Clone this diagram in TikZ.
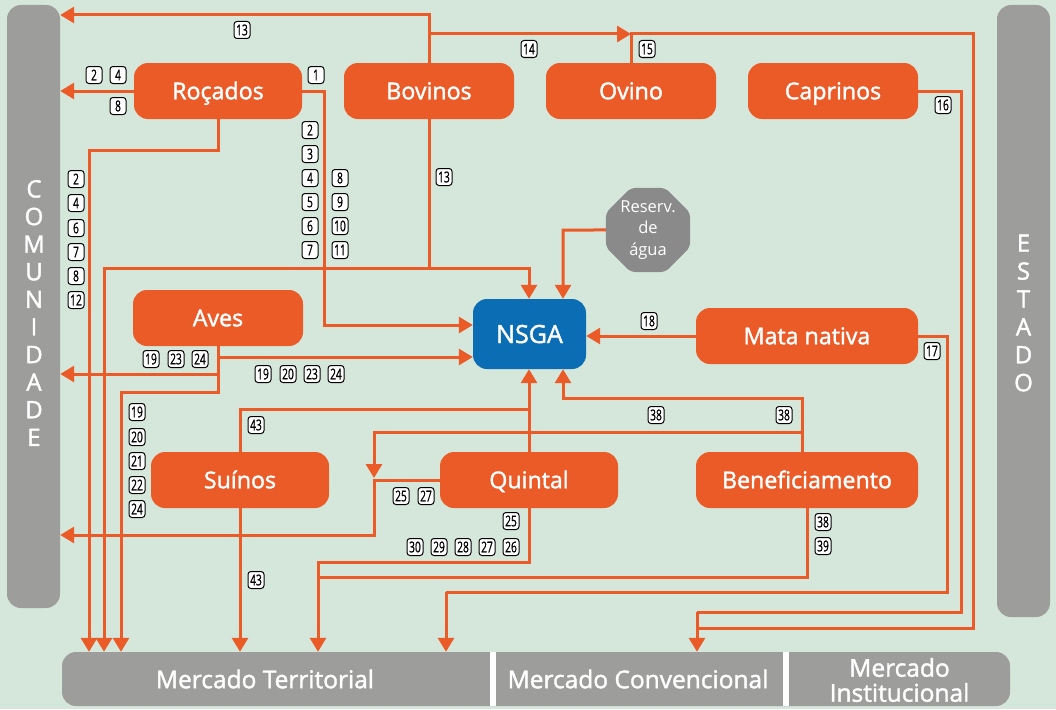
\documentclass[tikz,border=0pt]{standalone}
\usepackage{fontspec}
\setmainfont{Open Sans}
\newfontfamily\semib{Open Sans}[FakeBold=1.6]
\newfontfamily\lblf{Open Sans}[FakeBold=1.0]
\usetikzlibrary{arrows.meta,shapes.geometric}
\definecolor{bgc}{RGB}{213,231,218}
\definecolor{orc}{RGB}{235,91,40}
\definecolor{grc}{RGB}{157,157,156}
\definecolor{ogc}{RGB}{138,138,138}
\definecolor{blc}{RGB}{11,110,181}
\tikzset{
 box/.style={fill=orc, rounded corners=14pt, minimum height=56pt, text=white, font=\semib\fontsize{23.2}{26}\selectfont, inner sep=0pt, text height=16.5pt, text depth=0pt},
 bar/.style={fill=grc, rounded corners=14pt, inner sep=0pt},
 bartxt/.style={text=white, align=center, inner sep=0pt},
 mkt/.style={text=white, align=center, inner sep=0pt, minimum height=54pt, font=\semib\fontsize{24.5}{25}\selectfont},
 flow/.style={draw=orc, line width=3pt},
 arr/.style={flow, -{Triangle[length=14pt,width=16pt]}},
 lbl/.style={draw=black, fill=white, line width=1pt, rounded corners=3pt, minimum width=16pt, minimum height=17pt, inner sep=0pt, font=\lblf\fontsize{15}{15}\selectfont},
}
\newcommand\lb[3]{\node[lbl] (#1) at (#2) {\scalebox{0.68}[1]{#3}};}
\begin{document}
\begin{tikzpicture}[x=1pt,y=-1pt]
\fill[bgc] (0,0) rectangle (1056,709);
\useasboundingbox (0,0) rectangle (1056,709);
% side bars
\node[bar, minimum width=53pt, minimum height=603pt] (comunidade) at (33.5,306.5) {};
\node[bartxt, font=\semib\fontsize{24}{27.6}\selectfont] (comtxt) at (34,313) {C\\O\\M\\U\\N\\I\\D\\A\\D\\E};
\node[bar, minimum width=53pt, minimum height=612pt] (estado) at (1023.5,311) {};
\node[bartxt, font=\semib\fontsize{24}{27.9}\selectfont] (esttxt) at (1023.5,313) {E\\S\\T\\A\\D\\O};
% market bar
\fill[grc, rounded corners=14pt] (62,652) rectangle (1010,706);
\fill[white] (490,652) rectangle (496,706);
\fill[white] (783,652) rectangle (789,706);
\node[mkt, minimum width=428pt] (mterr) at (265,679) {Mercado Territorial};
\node[mkt, minimum width=287pt] (mconv) at (638,679) {Mercado Convencional};
\node[mkt, minimum width=221pt] (minst) at (899.5,680) {Mercado\\Institucional};
% nodes
\node[box, minimum width=168pt] (rocados) at (218,91) {Roçados};
\node[box, minimum width=170pt] (bovinos) at (429,91) {Bovinos};
\node[box, minimum width=170pt] (ovino) at (631,91) {Ovino};
\node[box, minimum width=170pt] (caprinos) at (833,91) {Caprinos};
\node[box, minimum width=170pt] (aves) at (218,318) {Aves};
\node[box, fill=blc, minimum width=113pt, minimum height=70pt, font=\semib\fontsize{25}{28}\selectfont, text height=18pt] (nsga) at (529.5,334) {NSGA};
\node[regular polygon, regular polygon sides=8, fill=ogc, minimum size=91pt, inner sep=0pt, rounded corners=5pt, text=white, align=center, font=\fontsize{16.5}{21.5}\selectfont] (reserv) at (648,230) {Reserv.\\de\\água};
\node[box, minimum width=222pt] (mata) at (807,336) {Mata nativa};
\node[box, minimum width=178pt] (suinos) at (240,480) {Suínos};
\node[box, minimum width=178pt] (quintal) at (529,480) {Quintal};
\node[box, minimum width=222pt] (benef) at (807,480) {Beneficiamento};
% connectors
\coordinate (b13) at (429,15);
\draw[arr] (bovinos.north) -- (b13) -- (b13 -| comunidade.east);
\coordinate (bj) at (429,34);
\coordinate (oj) at (631,34);
\draw[arr] (bj) -- (oj);
\coordinate (c1) at (973,34);
\coordinate (c2) at (973,628);
\coordinate (c3) at (697,628);
\coordinate (cv) at (697,612);
\draw[flow] (ovino.north) -- (oj) -- (c1) -- (c2) -- (c3);
\draw[flow] (caprinos.east) -- (961,91) -- (961,612) -- (cv);
\draw[arr] (cv) -- (cv |- mconv.north);
\coordinate (e4) at (446,592);
\draw[flow] (mata.east) -- (947,336) -- (947,592) -- (e4);
\draw[arr] (e4) -- (e4 |- mterr.north);
\draw[arr] (mata.west) -- (nsga.east |- mata.west);
\draw[arr] (rocados.west) -- (rocados.west -| comunidade.east);
\coordinate (h1) at (218,150);
\coordinate (h2) at (89,150);
\draw[arr] (rocados.south) -- (h1) -- (h2) -- (h2 |- mterr.north);
\coordinate (i1) at (324,91);
\coordinate (i2) at (324,325);
\draw[arr] (rocados.east) -- (i1) -- (i2) -- (i2 -| nsga.west);
\coordinate (j1) at (429,268);
\coordinate (j2) at (529,268);
\coordinate (j3) at (104,268);
\draw[arr] (bovinos.south) -- (j1) -- (j2) -- (j2 |- nsga.north);
\draw[arr] (j1) -- (j3) -- (j3 |- mterr.north);
\coordinate (k1) at (563,230);
\draw[arr] (reserv.west) -- (k1) -- (k1 |- nsga.north);
\coordinate (l1) at (218,357);
\coordinate (l2) at (218,374);
\coordinate (l3) at (218,392);
\coordinate (l4) at (121,392);
\draw[arr] (aves.south) -- (l1) -- (l1 -| nsga.west);
\draw[arr] (l1) -- (l2) -- (l2 -| comunidade.east);
\draw[arr] (l2) -- (l3) -- (l4) -- (l4 |- mterr.north);
\coordinate (m1) at (240,409);
\coordinate (m2) at (529,409);
\draw[flow] (suinos.north) -- (m1) -- (m2);
\draw[arr] (suinos.south) -- (suinos.south |- mterr.north);
\draw[arr] (quintal.north) -- (quintal.north |- nsga.south);
\coordinate (o2) at (374,535);
\coordinate (o1) at (o2 |- quintal.west);
\draw[arr] (quintal.west) -- (o1) -- (o2) -- (o2 -| comunidade.east);
\coordinate (p1) at (802,398);
\coordinate (p2) at (563,398);
\coordinate (p3) at (802,432);
\coordinate (p4) at (374,432);
\draw[arr] (benef.north -| p1) -- (p1) -- (p2) -- (p2 |- nsga.south);
\draw[arr] (p3) -- (p4) -- ([yshift=2pt]o1);
\coordinate (q1) at (529,562);
\coordinate (q2) at (318,562);
\draw[arr] (quintal.south) -- (q1) -- (q2) -- (q2 |- mterr.north);
\coordinate (r1) at (807,577);
\coordinate (r2) at (318,577);
\draw[flow] (benef.south) -- (r1) -- (r2);
% labels
\lb{t1}{242,30}{13}
\lb{t2}{529,49}{14}
\lb{t3}{647,49}{15}
\lb{t4}{943,105}{16}
\lb{t5}{932,351}{17}
\lb{t6}{649,321}{18}
\lb{t7}{94,75}{2}
\lb{t8}{118,75}{4}
\lb{t9}{118,106}{8}
\lb{u1}{76,179}{2}
\lb{u2}{76,203}{4}
\lb{u3}{76,228}{6}
\lb{u4}{76,252}{7}
\lb{u5}{76,276}{8}
\lb{u6}{76,300}{12}
\lb{v0}{316,75}{1}
\lb{v1}{310,130}{2}
\lb{v2}{310,154}{3}
\lb{v3}{310,178}{4}
\lb{v4}{310,202}{5}
\lb{v5}{310,226}{6}
\lb{v6}{310,250}{7}
\lb{w1}{340,178}{8}
\lb{w2}{340,202}{9}
\lb{w3}{340,226}{10}
\lb{w4}{340,250}{11}
\lb{x1}{444,177}{13}
\lb{a1}{151,359}{19}
\lb{a2}{176,359}{23}
\lb{a3}{200,359}{24}
\lb{a4}{263,374}{19}
\lb{a5}{288,374}{20}
\lb{a6}{312,374}{23}
\lb{a7}{336,374}{24}
\lb{a8}{137,412}{19}
\lb{a9}{137,437}{20}
\lb{a10}{137,461}{21}
\lb{a11}{137,485}{22}
\lb{a12}{137,509}{24}
\lb{s1}{256,425}{43}
\lb{s2}{256,580}{43}
\lb{q3}{401,496}{25}
\lb{q4}{426,496}{27}
\lb{b1}{656,415}{38}
\lb{b2}{784,415}{38}
\lb{q5}{511,521}{25}
\lb{q6}{415,547}{30}
\lb{q7}{439,547}{29}
\lb{q8}{463,547}{28}
\lb{q9}{487,547}{27}
\lb{q10}{511,547}{26}
\lb{b3}{823,522}{38}
\lb{b4}{823,546}{39}
\end{tikzpicture}
\end{document}
